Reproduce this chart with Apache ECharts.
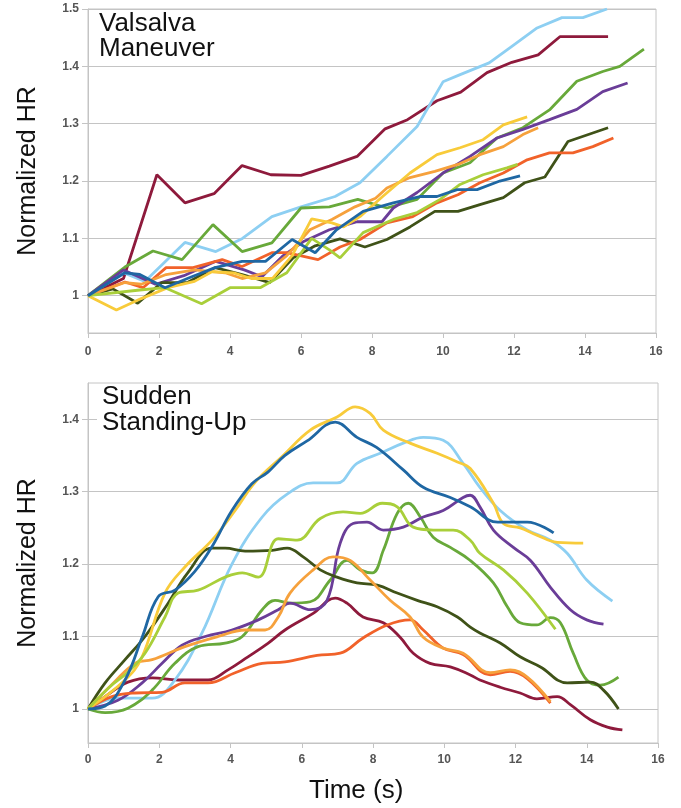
<!DOCTYPE html>
<html>
<head>
<meta charset="utf-8">
<script src="https://cdn.jsdelivr.net/npm/echarts/dist/echarts.min.js"></script>
<style>
  html, body { margin: 0; padding: 0; background: #fff; }
  #main { width: 681px; height: 808px; }
</style>
</head>
<body>
<div id="main"></div>
<script>
// tick labels
var xTicks = [0, 2, 4, 6, 8, 10, 12, 14, 16];
var topYTicks = [1, 1.1, 1.2, 1.3, 1.4, 1.5];
var botYTicks = [1, 1.1, 1.2, 1.3, 1.4];

var seriesNames = ['maroon', 'lightblue', 'green', 'purple', 'olive', 'redorange', 'orange', 'yellow', 'lime', 'blue'];
var seriesColors = ['#8e1a3c', '#8dcff2', '#68a93a', '#6a3d98', '#3f5218', '#f1622a', '#f6a13c', '#f8cb3a', '#a9cf3a', '#1f67a3'];

// Valsalva maneuver, [time s, normalized HR]
var vMaroon = [[0,1],[1.0,1.03],[1.94,1.211],[2.73,1.162],[3.55,1.178],[4.34,1.227],[5.15,1.211],[6.0,1.21],[6.8,1.226],[7.58,1.243],[8.37,1.291],[9.0,1.307],[9.83,1.34],[10.5,1.355],[11.24,1.389],[11.94,1.407],[12.68,1.42],[13.3,1.452],[14.65,1.452]];
var vLightBlue = [[0,1],[1.0,1.04],[1.6,1.025],[2.73,1.093],[3.6,1.077],[4.35,1.1],[5.18,1.138],[6.0,1.155],[6.96,1.173],[7.66,1.197],[8.42,1.243],[9.27,1.295],[10.0,1.373],[10.5,1.386],[11.3,1.406],[11.94,1.435],[12.65,1.467],[13.35,1.485],[13.94,1.485],[14.62,1.5]];
var vGreen = [[0,1],[1.04,1.05],[1.83,1.078],[2.65,1.063],[3.52,1.124],[4.34,1.077],[5.18,1.092],[6.0,1.153],[6.8,1.155],[7.6,1.168],[8.1,1.159],[8.42,1.153],[9.27,1.168],[10.0,1.214],[10.76,1.232],[11.52,1.275],[12.25,1.293],[13.0,1.324],[13.77,1.374],[14.5,1.391],[14.98,1.4],[15.66,1.43]];
var vPurple = [[0,1],[1.0,1.045],[1.9,1.02],[2.7,1.035],[3.6,1.06],[4.4,1.045],[4.9,1.033],[5.5,1.07],[6.06,1.094],[6.8,1.115],[7.58,1.129],[8.28,1.129],[8.6,1.153],[9.27,1.18],[10.0,1.214],[10.76,1.243],[11.52,1.275],[12.25,1.29],[13.0,1.307],[13.77,1.325],[14.5,1.356],[15.2,1.371]];
var vOlive = [[0,1],[0.7,1.012],[1.4,0.987],[2.08,1.023],[2.8,1.023],[3.58,1.049],[4.34,1.037],[5.12,1.023],[5.78,1.066],[6.4,1.087],[7.1,1.099],[7.8,1.085],[8.42,1.098],[9.07,1.12],[9.77,1.147],[10.42,1.147],[11.04,1.159],[11.7,1.171],[12.3,1.197],[12.87,1.207],[13.52,1.269],[14.65,1.293]];
var vRedOrange = [[0,1],[1.04,1.024],[1.55,1.014],[2.2,1.049],[2.96,1.049],[3.78,1.063],[4.34,1.051],[5.18,1.075],[5.6,1.075],[6.48,1.063],[7.1,1.085],[7.66,1.098],[8.42,1.127],[9.15,1.138],[9.83,1.162],[10.42,1.176],[11.04,1.197],[11.7,1.214],[12.37,1.237],[13.0,1.249],[13.66,1.249],[14.22,1.26],[14.8,1.275]];
var vOrange = [[0,1],[1.04,1.023],[1.5,1.02],[2.2,1.037],[3.0,1.045],[3.86,1.04],[4.34,1.03],[5.0,1.04],[5.6,1.07],[6.25,1.115],[6.87,1.133],[7.52,1.155],[8.1,1.17],[8.42,1.188],[9.07,1.206],[9.77,1.217],[10.42,1.229],[11.04,1.246],[11.7,1.26],[12.25,1.281],[12.68,1.293]];
var vYellow = [[0,1],[0.8,0.975],[1.5,0.995],[2.25,1.014],[3.0,1.025],[3.5,1.042],[4.1,1.04],[4.6,1.03],[5.2,1.03],[5.75,1.07],[6.3,1.134],[6.87,1.127],[7.2,1.12],[7.66,1.138],[8.3,1.173],[9.07,1.214],[9.83,1.246],[10.48,1.258],[11.13,1.272],[11.7,1.298],[12.37,1.312]];
var vLime = [[0,1],[1.46,1.01],[2.17,1.014],[3.2,0.986],[4.0,1.014],[4.85,1.014],[5.6,1.04],[6.3,1.1],[6.8,1.08],[7.1,1.066],[7.75,1.11],[8.6,1.133],[9.27,1.145],[9.92,1.168],[10.48,1.194],[11.13,1.211],[11.8,1.223],[12.1,1.229]];
var vBlue = [[0,1],[1.04,1.04],[1.46,1.037],[2.17,1.014],[2.8,1.03],[3.58,1.049],[4.34,1.06],[5.0,1.06],[5.75,1.098],[6.4,1.075],[7.0,1.115],[7.75,1.147],[8.6,1.162],[9.35,1.173],[9.83,1.173],[10.4,1.185],[10.96,1.185],[11.6,1.2],[12.17,1.209]];

// Sudden standing-up, [time s, normalized HR]
var sMaroon = [[0,1],[0.48,1.017],[1.12,1.037],[1.8,1.043],[2.53,1.04],[3.37,1.04],[3.93,1.054],[4.49,1.072],[5.06,1.091],[5.53,1.109],[6.32,1.132],[6.94,1.153],[7.27,1.146],[7.72,1.127],[8.29,1.119],[8.76,1.099],[9.13,1.077],[9.6,1.063],[10.17,1.058],[10.73,1.047],[11.0,1.04],[11.57,1.03],[12.13,1.022],[12.6,1.014],[13.17,1.017],[13.54,1.006],[14.1,0.985],[14.58,0.975],[15.0,0.971]];
var sLightBlue = [[0,1],[0.84,1.015],[1.8,1.015],[2.44,1.04],[3.2,1.105],[4.04,1.2],[4.89,1.265],[5.6,1.297],[6.32,1.312],[6.99,1.312],[7.55,1.339],[8.2,1.353],[8.85,1.367],[9.41,1.375],[9.97,1.371],[10.53,1.339],[11.0,1.306],[11.57,1.274],[12.33,1.247],[12.98,1.233],[13.45,1.215],[14.0,1.178],[14.72,1.149]];
var sGreen = [[0,1],[0.48,0.995],[1.12,1.001],[1.8,1.026],[2.44,1.063],[3.09,1.086],[3.85,1.091],[4.33,1.1],[4.89,1.137],[5.25,1.15],[5.67,1.146],[6.24,1.148],[6.8,1.178],[7.27,1.205],[7.64,1.192],[7.98,1.188],[8.29,1.219],[8.68,1.27],[8.99,1.284],[9.33,1.265],[9.69,1.237],[10.17,1.223],[10.73,1.205],[11.38,1.174],[11.77,1.141],[12.13,1.119],[12.6,1.116],[12.98,1.126],[13.26,1.119],[13.62,1.077],[14.0,1.04],[14.38,1.033],[14.89,1.044]];
var sPurple = [[0,1],[0.84,1.012],[1.52,1.036],[2.08,1.063],[2.64,1.088],[3.29,1.1],[4.04,1.109],[4.78,1.123],[5.34,1.137],[5.67,1.146],[6.24,1.137],[6.71,1.15],[7.08,1.229],[7.44,1.256],[7.83,1.258],[8.29,1.247],[8.85,1.251],[9.41,1.265],[9.97,1.274],[10.53,1.292],[10.73,1.295],[11.0,1.279],[11.38,1.247],[11.94,1.223],[12.42,1.205],[12.98,1.168],[13.54,1.137],[14.0,1.123],[14.47,1.117]];
var sOlive = [[0,1],[0.48,1.036],[1.04,1.068],[1.6,1.1],[2.25,1.146],[2.8,1.188],[3.48,1.222],[3.85,1.222],[4.41,1.218],[5.17,1.219],[5.59,1.222],[6.04,1.21],[6.52,1.192],[6.99,1.182],[7.55,1.174],[8.12,1.171],[8.68,1.16],[9.24,1.15],[9.8,1.141],[10.37,1.127],[10.73,1.113],[11.0,1.105],[11.57,1.091],[12.13,1.072],[12.7,1.058],[13.45,1.036],[14.1,1.037],[14.47,1.026],[14.89,1.0]];
var sRedOrange = [[0,1],[0.67,1.017],[1.32,1.022],[2.08,1.023],[2.72,1.036],[3.37,1.036],[4.13,1.05],[4.89,1.063],[5.53,1.065],[6.43,1.074],[7.08,1.077],[7.72,1.098],[8.4,1.116],[9.04,1.123],[9.41,1.109],[9.97,1.084],[10.53,1.075],[11.29,1.047],[11.85,1.052],[12.33,1.042],[12.98,1.008]];
var sOrange = [[0,1],[0.7,1.035],[1.32,1.063],[1.8,1.068],[2.72,1.086],[3.65,1.1],[4.41,1.109],[4.97,1.109],[5.34,1.127],[5.67,1.16],[6.32,1.192],[6.88,1.21],[7.36,1.205],[7.92,1.178],[8.48,1.15],[9.04,1.127],[9.41,1.099],[9.97,1.084],[10.53,1.077],[11.29,1.05],[11.85,1.054],[12.33,1.044],[12.98,1.01]];
var sYellow = [[0,1],[1.04,1.04],[1.5,1.07],[2.16,1.16],[2.72,1.196],[3.48,1.233],[4.13,1.274],[4.69,1.313],[5.48,1.35],[6.24,1.385],[6.99,1.403],[7.5,1.417],[7.92,1.408],[8.29,1.385],[9.04,1.367],[9.8,1.353],[10.37,1.341],[10.73,1.332],[11.38,1.284],[11.66,1.256],[12.13,1.25],[12.6,1.24],[13.17,1.23],[13.9,1.229]];
var sLime = [[0,1],[0.6,1.03],[1.1,1.05],[1.6,1.077],[2.16,1.127],[2.53,1.16],[3.09,1.164],[3.85,1.182],[4.33,1.188],[4.78,1.182],[5.34,1.235],[5.87,1.233],[6.52,1.263],[7.16,1.272],[7.64,1.27],[8.26,1.284],[8.68,1.279],[9.13,1.251],[9.69,1.247],[10.25,1.247],[10.73,1.233],[11.0,1.215],[11.66,1.192],[12.33,1.16],[13.12,1.11]];
var sBlue = [[0,1],[0.48,1.004],[1.04,1.04],[1.52,1.099],[1.97,1.155],[2.44,1.164],[3.0,1.19],[3.48,1.224],[4.04,1.274],[4.6,1.311],[5.05,1.327],[5.53,1.35],[6.15,1.37],[6.94,1.396],[7.55,1.375],[8.1,1.361],[8.85,1.33],[9.41,1.306],[10.17,1.292],[10.73,1.279],[11.5,1.258],[12.33,1.258],[13.07,1.243]];

var valsalva = [vMaroon, vLightBlue, vGreen, vPurple, vOlive, vRedOrange, vOrange, vYellow, vLime, vBlue];
var standing = [sMaroon, sLightBlue, sGreen, sPurple, sOlive, sRedOrange, sOrange, sYellow, sLime, sBlue];

var gridColor = '#c4c4c4';
var labelStyle = { color: '#555', fontSize: 12, fontWeight: 'bold', fontFamily: 'Liberation Sans' };

function xAxisFor(gi, margin) {
  return {
    gridIndex: gi, type: 'value', min: 0, max: 16, interval: 2,
    axisLine: { lineStyle: { color: gridColor } },
    axisTick: { show: true, length: 5, lineStyle: { color: gridColor } },
    axisLabel: Object.assign({ margin: margin }, labelStyle),
    splitLine: { show: false }
  };
}
function yAxisFor(gi, min, max, ticks) {
  return {
    gridIndex: gi, type: 'value', min: min, max: max,
    name: 'Normalized HR', nameLocation: 'middle', nameGap: 47,
    nameTextStyle: { color: '#111', fontSize: 25, fontFamily: 'Liberation Sans' },
    axisLine: { show: true, lineStyle: { color: gridColor } },
    axisTick: { show: true, length: 6, customValues: ticks, lineStyle: { color: gridColor } },
    axisLabel: Object.assign({ margin: 9, customValues: ticks }, labelStyle),
    splitLine: { show: true, lineStyle: { color: gridColor, width: 1 } }
  };
}

var series = [];
valsalva.forEach(function (d, i) {
  series.push({
    name: seriesNames[i], type: 'line', xAxisIndex: 0, yAxisIndex: 0, data: d,
    showSymbol: false, smooth: false, lineStyle: { width: 2.8, color: seriesColors[i] }
  });
});
standing.forEach(function (d, i) {
  series.push({
    name: seriesNames[i], type: 'line', xAxisIndex: 1, yAxisIndex: 1, data: d,
    showSymbol: false, smooth: 0.4, lineStyle: { width: 2.8, color: seriesColors[i] }
  });
});

var chart = echarts.init(document.getElementById('main'));
chart.setOption({
  animation: false,
  backgroundColor: '#fff',
  grid: [
    { left: 88, top: 9, width: 568, height: 324, show: true, borderColor: gridColor, borderWidth: 1 },
    { left: 88, top: 383, width: 570, height: 360, show: true, borderColor: gridColor, borderWidth: 1 }
  ],
  xAxis: [xAxisFor(0, 13), xAxisFor(1, 11)],
  yAxis: [yAxisFor(0, 0.935, 1.5, topYTicks), yAxisFor(1, 0.953, 1.45, botYTicks)],
  series: series,
  graphic: [
    { type: 'text', left: 99, top: 11, z: 100,
      style: { text: 'Valsalva\nManeuver', fill: '#111', fontSize: 26, lineHeight: 25, fontFamily: 'Liberation Sans' } },
    { type: 'text', left: 97, top: 384, z: 100,
      style: { text: 'Sudden\nStanding-Up', fill: '#111', fontSize: 26, lineHeight: 26, fontFamily: 'Liberation Sans',
               backgroundColor: '#fff', padding: [0, 4, 0, 5] } },
    { type: 'text', left: 309, top: 778, z: 100,
      style: { text: 'Time (s)', fill: '#111', fontSize: 26, fontFamily: 'Liberation Sans' } }
  ]
});
</script>
</body>
</html>
